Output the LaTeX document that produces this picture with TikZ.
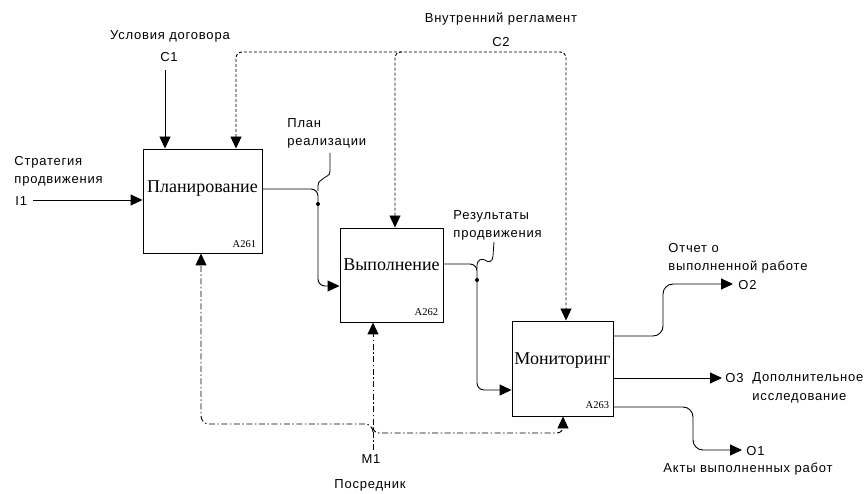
\documentclass[tikz,border=0pt]{standalone}
\usepackage{fontspec}
\setmainfont{Liberation Serif}
\newfontfamily\lblfont[LetterSpace=6]{Liberation Sans}
\usetikzlibrary{arrows.meta,calc}

\begin{document}
\begin{tikzpicture}[x=1pt,y=-1pt,
  line width=0.9pt,
  box/.style={draw, line width=0.9pt, inner sep=0pt},
  title/.style={font=\fontsize{18}{18}\selectfont, inner sep=0pt, anchor=base},
  code/.style={font=\fontsize{10.5}{10.5}\selectfont, inner sep=0pt, anchor=base east},
  lbl/.style={font=\lblfont\fontsize{13}{18}\selectfont, inner sep=0pt, align=left},
  tip/.style={-{Triangle[length=12pt,width=11pt]}},
  tips/.style={{Triangle[length=12pt,width=11pt]}-{Triangle[length=12pt,width=11pt]}},
  ctrl/.style={dash pattern=on 3pt off 2pt},
  mech/.style={dash pattern=on 6pt off 2.5pt on 1.5pt off 2.5pt}
]
\useasboundingbox (0,0) rectangle (868,494);

% activity boxes
\node[box, minimum width=119pt, minimum height=104pt] (b1) at (202.5,201) {};
\node[box, minimum width=103pt, minimum height=94pt] (b2) at (391.5,275) {};
\node[box, minimum width=101pt, minimum height=95pt] (b3) at (562.5,368.5) {};

\node[title] (t1) at (202.5,193) {Планирование};
\node[title] (t2) at (391.5,271) {Выполнение};
\node[title] (t3) at (562.5,365) {Мониторинг};

\node[code] (n1) at ($(b1.south east)+(-6,-6)$) {A261};
\node[code] (n2) at ($(b2.south east)+(-5,-7)$) {A262};
\node[code] (n3) at ($(b3.south east)+(-4,-8)$) {A263};

% arrow labels (multi-line nodes are placed by the baseline of their last line)
\node[lbl, anchor=base] (c1t) at (170,40) {Условия договора};
\node[lbl, anchor=base] (c1) at (169,62) {C1};
\node[lbl, anchor=base] (c2t) at (501,23) {Внутренний регламент};
\node[lbl, anchor=base] (c2) at (501,47) {C2};
\node[lbl, anchor=base west] (i1t) at (14,184) {Стратегия\\продвижения};
\node[lbl, anchor=base west] (i1) at (15,206) {I1};
\node[lbl, anchor=base west] (p1t) at (287,146) {План\\реализации};
\node[lbl, anchor=base west] (p2t) at (453,238) {Результаты\\продвижения};
\node[lbl, anchor=base west] (o2t) at (668,271) {Отчет о\\выполненной работе};
\node[lbl, anchor=base west] (o2) at (738,290) {O2};
\node[lbl, anchor=base west] (o3) at (725,383) {O3};
\node[lbl, anchor=base west] (o3t) at (752,400) {Дополнительное\\исследование};
\node[lbl, anchor=base west] (o1) at (746,455) {O1};
\node[lbl, anchor=base] (o1t) at (748,472) {Акты выполненных работ};
\node[lbl, anchor=base] (m1) at (371,464) {M1};
\node[lbl, anchor=base] (m1t) at (370,488) {Посредник};

% input
\coordinate (i1s) at (33,200);
\draw[tip] (i1s) -- (i1s -| b1.west);

% controls
\coordinate (c1s) at (165,70);
\draw[tip] (c1s) -- (c1s |- b1.north);

\coordinate (c2w) at (236,52);
\coordinate (c2m) at (395,52);
\coordinate (c2e) at (566,52);
\draw[ctrl, tips, rounded corners=6pt] (c2w |- b1.north) -- (c2w) -- (c2e) -- (c2e |- b3.north);
\draw[ctrl, tip, rounded corners=6pt] ($(c2m)+(7,0)$) -- (c2m) -- (c2m |- b2.north);

% A261 -> A262
\coordinate (j1) at (318,204);
\draw[tip, rounded corners=7pt] ([yshift=12pt]b1.east) -| (j1) |- ([yshift=-11pt]b2.west);
\fill (j1) circle (2pt);
\coordinate (s1a) at (318,191);
\coordinate (s1b) at (330,153);
\draw[line width=0.8pt] (s1a) -- (318,186) .. controls (318,180) and (322,181) .. (324,178)
  .. controls (326,175) and (330,177) .. (330,171) -- (s1b);

% A262 -> A263
\coordinate (j2) at (477,280);
\draw[tip, rounded corners=7pt] ([yshift=11pt]b2.east) -| (j2) |- ([yshift=-21.5pt]b3.west);
\fill (j2) circle (2pt);
\coordinate (s2a) at (477,269);
\coordinate (s2b) at (494,242);
\draw[line width=0.8pt] (s2a) -- (477,265) .. controls (477,260) and (482,258) .. (485,260)
  .. controls (488,263) and (493,262) .. (493,256) -- (s2b);

% outputs
\coordinate (o2k) at (663,284);
\draw[tip, rounded corners=10pt] ([yshift=32.5pt]b3.east) -| (o2k) -- ($(o2k -| o2.west)+(-5,0)$);
\coordinate (o3s) at ([yshift=-9.5pt]b3.east);
\draw[tip] (o3s) -- ($(o3s -| o3.west)+(-3,0)$);
\coordinate (o1k) at (693,450);
\draw[tip, rounded corners=10pt] ([yshift=-38.5pt]b3.east) -| (o1k) -- ($(o1k -| o1.west)+(-4,0)$);

% mechanism
\coordinate (m1s) at (373,450);
\coordinate (ml) at (201,424);
\coordinate (mr) at (563,433);
\draw[mech, tip] (m1s) -- (m1s |- b2.south);
\draw[mech, tip, rounded corners=8pt] ($(m1s |- ml)+(0,8)$) -- (m1s |- ml) -- (ml) -- (ml |- b1.south);
\draw[mech, tip, rounded corners=6pt] ($(m1s |- mr)+(0,-6)$) -- (m1s |- mr) -- (mr) -- (mr |- b3.south);
\end{tikzpicture}
\end{document}
